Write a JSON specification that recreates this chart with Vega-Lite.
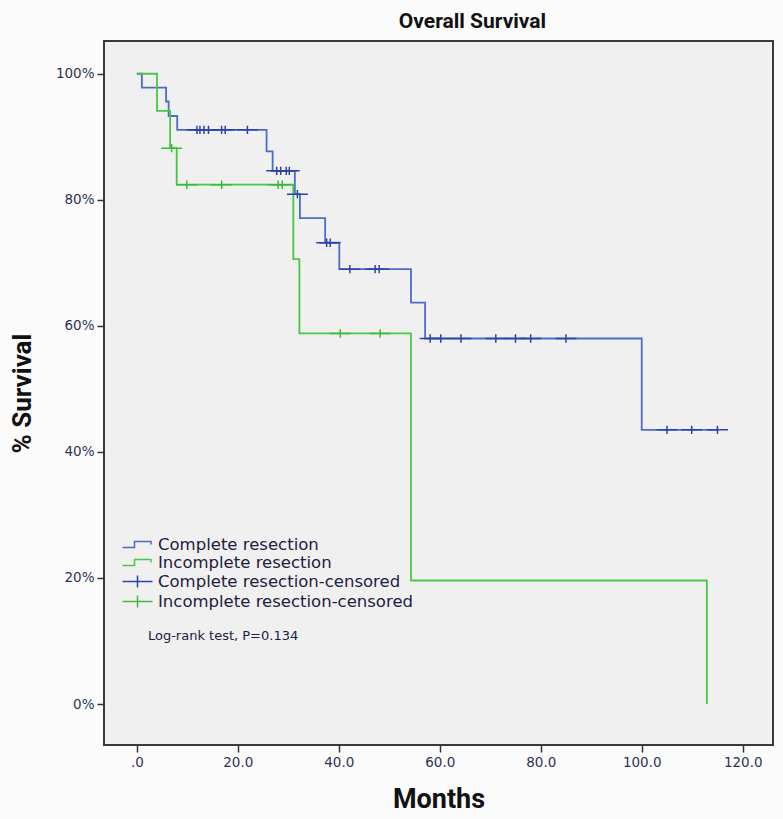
{
  "$schema": "https://vega.github.io/schema/vega-lite/v6.json",
  "width": 669,
  "height": 704,
  "autosize": {"type": "none"},
  "padding": {"left": 104, "top": 41, "right": 10, "bottom": 74},
  "background": "#fbfbfb",
  "title": {"text": "Overall Survival", "font": "Roboto", "fontWeight": "bold", "fontSize": 21, "color": "#111111", "anchor": "middle", "dx": 34, "offset": 9},
  "config": {
    "view": {"fill": "#f0f0f0", "stroke": "#3a3a3a", "strokeWidth": 2},
    "axis": {"grid": false, "domain": false, "tickColor": "#333333", "tickSize": 7, "tickWidth": 1.5, "labelFont": "DejaVu Sans", "labelFontSize": 13.5, "labelColor": "#2c3355", "titleFont": "Roboto", "titleFontWeight": "bold", "titleFontSize": 27, "titleColor": "#111111"}
  },
  "datasets": {
    "curves": [
      {"group": "Complete resection", "month": 0, "surv": 100},
      {"group": "Complete resection", "month": 1.0, "surv": 97.8},
      {"group": "Complete resection", "month": 5.8, "surv": 95.6},
      {"group": "Complete resection", "month": 6.3, "surv": 93.3},
      {"group": "Complete resection", "month": 8.0, "surv": 91.1},
      {"group": "Complete resection", "month": 25.7, "surv": 87.7},
      {"group": "Complete resection", "month": 26.9, "surv": 84.6},
      {"group": "Complete resection", "month": 31.3, "surv": 80.9},
      {"group": "Complete resection", "month": 32.3, "surv": 77.1},
      {"group": "Complete resection", "month": 37.3, "surv": 73.2},
      {"group": "Complete resection", "month": 40.1, "surv": 69.0},
      {"group": "Complete resection", "month": 54.3, "surv": 63.7},
      {"group": "Complete resection", "month": 57.1, "surv": 58.0},
      {"group": "Complete resection", "month": 100.0, "surv": 43.5},
      {"group": "Complete resection", "month": 115.0, "surv": 43.5},
      {"group": "Incomplete resection", "month": 0, "surv": 100},
      {"group": "Incomplete resection", "month": 4.0, "surv": 94.1},
      {"group": "Incomplete resection", "month": 6.6, "surv": 88.2},
      {"group": "Incomplete resection", "month": 7.9, "surv": 82.4},
      {"group": "Incomplete resection", "month": 31.0, "surv": 70.6},
      {"group": "Incomplete resection", "month": 32.2, "surv": 58.8},
      {"group": "Incomplete resection", "month": 54.3, "surv": 19.6},
      {"group": "Incomplete resection", "month": 112.9, "surv": 0}
    ],
    "censored": [
      {"series": "Complete resection-censored", "month": 11.9, "surv": 91.1},
      {"series": "Complete resection-censored", "month": 12.5, "surv": 91.1},
      {"series": "Complete resection-censored", "month": 13.3, "surv": 91.1},
      {"series": "Complete resection-censored", "month": 14.2, "surv": 91.1},
      {"series": "Complete resection-censored", "month": 16.8, "surv": 91.1},
      {"series": "Complete resection-censored", "month": 17.5, "surv": 91.1},
      {"series": "Complete resection-censored", "month": 21.9, "surv": 91.1},
      {"series": "Complete resection-censored", "month": 27.7, "surv": 84.6},
      {"series": "Complete resection-censored", "month": 28.5, "surv": 84.6},
      {"series": "Complete resection-censored", "month": 29.6, "surv": 84.6},
      {"series": "Complete resection-censored", "month": 30.2, "surv": 84.6},
      {"series": "Complete resection-censored", "month": 31.8, "surv": 80.9},
      {"series": "Complete resection-censored", "month": 37.6, "surv": 73.2},
      {"series": "Complete resection-censored", "month": 38.3, "surv": 73.2},
      {"series": "Complete resection-censored", "month": 42.2, "surv": 69.0},
      {"series": "Complete resection-censored", "month": 47.2, "surv": 69.0},
      {"series": "Complete resection-censored", "month": 48.0, "surv": 69.0},
      {"series": "Complete resection-censored", "month": 58.1, "surv": 58.0},
      {"series": "Complete resection-censored", "month": 60.2, "surv": 58.0},
      {"series": "Complete resection-censored", "month": 64.2, "surv": 58.0},
      {"series": "Complete resection-censored", "month": 71.1, "surv": 58.0},
      {"series": "Complete resection-censored", "month": 75.0, "surv": 58.0},
      {"series": "Complete resection-censored", "month": 78.0, "surv": 58.0},
      {"series": "Complete resection-censored", "month": 85.0, "surv": 58.0},
      {"series": "Complete resection-censored", "month": 105.0, "surv": 43.5},
      {"series": "Complete resection-censored", "month": 109.9, "surv": 43.5},
      {"series": "Complete resection-censored", "month": 115.0, "surv": 43.5},
      {"series": "Incomplete resection-censored", "month": 6.9, "surv": 88.2},
      {"series": "Incomplete resection-censored", "month": 9.9, "surv": 82.4},
      {"series": "Incomplete resection-censored", "month": 16.8, "surv": 82.4},
      {"series": "Incomplete resection-censored", "month": 28.0, "surv": 82.4},
      {"series": "Incomplete resection-censored", "month": 28.8, "surv": 82.4},
      {"series": "Incomplete resection-censored", "month": 40.3, "surv": 58.8},
      {"series": "Incomplete resection-censored", "month": 48.2, "surv": 58.8}
    ],
    "note": [{"label": "Log-rank test, P=0.134", "month": 2.2, "surv": 10.8}]
  },
  "layer": [
    {
      "data": {"name": "curves"},
      "mark": {"type": "line", "interpolate": "step-after", "strokeWidth": 1.8},
      "encoding": {
        "x": {"field": "month", "type": "quantitative", "scale": {"domain": [-6.5, 126], "nice": false, "zero": false},
              "axis": {"title": "Months", "values": [0, 20, 40, 60, 80, 100, 120], "labelExpr": "datum.value == 0 ? '.0' : format(datum.value, '.1f')", "labelPadding": 3, "titlePadding": 18}},
        "y": {"field": "surv", "type": "quantitative", "scale": {"domain": [-6.5, 105.2], "nice": false, "zero": false},
              "axis": {"title": "% Survival", "values": [0, 20, 40, 60, 80, 100], "labelExpr": "datum.value + '%'", "labelPadding": 3, "titlePadding": 20, "titleFontSize": 26}},
        "color": {"field": "group", "type": "nominal", "scale": {"domain": ["Complete resection", "Incomplete resection"], "range": ["#4c6cc8", "#46c844"]}, "legend": null}
      }
    },
    {
      "data": {"name": "censored"},
      "mark": {"type": "point", "filled": false, "size": 110, "strokeWidth": 1.5, "opacity": 1},
      "encoding": {
        "x": {"field": "month", "type": "quantitative"},
        "y": {"field": "surv", "type": "quantitative"},
        "stroke": {"field": "series", "type": "nominal",
                   "scale": {"domain": ["Complete resection", "Incomplete resection", "Complete resection-censored", "Incomplete resection-censored"], "range": ["#4c6cc8", "#46c844", "#2d43a8", "#3cba3c"]},
                   "legend": {"title": null, "orient": "none", "legendX": 25, "legendY": 495, "padding": 0, "symbolSize": 225, "symbolStrokeWidth": 1.5, "symbolFillColor": "transparent", "labelFont": "DejaVu Sans", "labelFontSize": 16.5, "labelColor": "#1d2040", "labelOffset": 12, "rowPadding": 1, "labelLimit": 400}},
        "shape": {"field": "series", "type": "nominal",
                  "scale": {"domain": ["Complete resection", "Incomplete resection", "Complete resection-censored", "Incomplete resection-censored"], "range": ["M-2,0.4H-0.4V-0.4H1.8V0", "M-2,0.4H-0.4V-0.4H1.8V0", "M-2,0H2M0,-0.8V0.8", "M-2,0H2M0,-0.8V0.8"]},
                  "legend": {"title": null, "orient": "none", "legendX": 25, "legendY": 495, "padding": 0, "symbolSize": 225, "symbolStrokeWidth": 1.5, "symbolFillColor": "transparent", "labelFont": "DejaVu Sans", "labelFontSize": 16.5, "labelColor": "#1d2040", "labelOffset": 12, "rowPadding": 1, "labelLimit": 400}}
      }
    },
    {
      "data": {"name": "note"},
      "mark": {"type": "text", "align": "left", "baseline": "middle", "font": "DejaVu Sans", "fontSize": 13, "color": "#1d2040"},
      "encoding": {
        "x": {"field": "month", "type": "quantitative"},
        "y": {"field": "surv", "type": "quantitative"},
        "text": {"field": "label"}
      }
    }
  ]
}
